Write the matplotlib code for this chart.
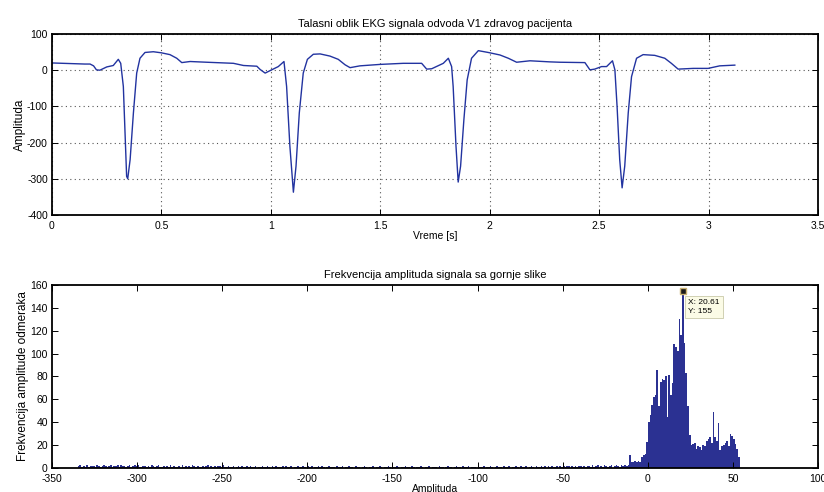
import numpy as np
import matplotlib
matplotlib.use("Agg")
import matplotlib.pyplot as plt

plt.rcParams['font.family'] = ['Liberation Sans', 'DejaVu Sans']
plt.rcParams['axes.unicode_minus'] = False

# EKG signal V1 - tacke ocitane sa slike
vreme = [0, 0.05, 0.10, 0.15, 0.174, 0.19, 0.203, 0.219, 0.25, 0.28,
         0.303, 0.314, 0.326, 0.341, 0.346, 0.357, 0.372, 0.387, 0.402, 0.425,
         0.463, 0.5, 0.539, 0.57, 0.593, 0.631, 0.707, 0.829, 0.875, 0.936,
         0.951, 0.974, 0.997, 1.034, 1.06, 1.072, 1.087, 1.103, 1.115, 1.13,
         1.148, 1.167, 1.194, 1.225, 1.27, 1.308, 1.339, 1.362, 1.407, 1.499,
         1.605, 1.689, 1.712, 1.735, 1.788, 1.811, 1.826, 1.833, 1.846, 1.856,
         1.867, 1.882, 1.897, 1.917, 1.948, 1.993, 2.047, 2.085, 2.123, 2.184,
         2.275, 2.32, 2.435, 2.458, 2.48, 2.511, 2.534, 2.561, 2.572, 2.582,
         2.594, 2.605, 2.617, 2.633, 2.648, 2.671, 2.701, 2.754, 2.8, 2.83,
         2.861, 2.93, 2.998, 3.051, 3.12]
amplituda = [20, 19, 18, 17, 17, 12, 1, 0, 9, 13,
             30, 19, -45, -293, -300, -247, -118, -8, 33, 49,
             51, 48, 43, 33, 21, 24, 22, 19, 13, 11,
             2, -8, -1, 10, 24, -45, -210, -337, -265, -118,
             -8, 30, 44, 45, 39, 30, 15, 7, 12, 16,
             19, 19, 3, 4, 19, 33, 10, -45, -210, -309,
             -265, -137, -27, 33, 54, 49, 42, 33, 22, 26,
             23, 22, 21, 1, 3, 10, 10, 26, 1, -100,
             -247, -325, -265, -118, -18, 33, 43, 41, 33, 19,
             3, 5, 5, 12, 14]

# histogram - prvi centar bina i broj odmeraka po binu (sirina bina 1)
prvi_centar = -334.39
rep = ("23121312221321232123122313221231232311221213212311"
       "21213121120312121321211212302121221311211201212112"
       "12112011211210212111202112011211210212011212101211"
       "10211201121102110121011201121011210112101121102101"
       "12101120111021101211012110211201110211201121012110"
       "21120112102112012102112120212112021212202121221212"
       "21312302132123023213232")
rep_brojevi = [int(c) for c in rep]
centar_brojevi = [3, 11, 5, 5, 6, 5, 6, 5, 10, 11, 12, 23, 40, 46, 55, 62, 64, 86,
                  54, 75, 78, 77, 80, 45, 81, 64, 74, 108, 106, 102, 130, 116, 155,
                  109, 83, 54, 29, 20, 21, 22, 17, 19, 18, 16, 20, 19, 24, 25, 27,
                  22, 49, 27, 24, 39, 16, 19, 20, 22, 24, 19, 30, 28, 25, 21, 17, 10]
brojevi = rep_brojevi + centar_brojevi
ivice = prvi_centar - 0.5 + np.arange(len(brojevi) + 1)

tip_x = 20.61
tip_y = 155

plava = '#2b3192'

fig = plt.figure(figsize=(8.24, 4.92), dpi=100)
ax1 = fig.add_axes([0.0631, 0.563, 0.9296, 0.3679])
ax2 = fig.add_axes([0.0631, 0.0488, 0.9296, 0.372])

# gornji grafik
ax1.plot(vreme, amplituda, color='#2233a0', linewidth=1.0)
ax1.set_xlim(0, 3.5)
ax1.set_ylim(-400, 100)
ax1.set_xticks(np.arange(0, 3.51, 0.5))
ax1.set_xticklabels(['0', '0.5', '1', '1.5', '2', '2.5', '3', '3.5'])
ax1.set_yticks(np.arange(-400, 101, 100))
ax1.grid(True, linestyle=(0, (1, 3)), color='#555555', linewidth=0.8)
ax1.set_title('Talasni oblik EKG signala odvoda V1 zdravog pacijenta', fontsize=8, pad=5)
ax1.set_xlabel('Vreme [s]', fontsize=7.5, labelpad=0)
ax1.set_ylabel('Amplituda', fontsize=8.5, labelpad=1)

# donji grafik - histogram
ax2.stairs(brojevi, ivice, fill=True, color=plava)
ax2.set_xlim(-350, 100)
ax2.set_ylim(0, 160)
ax2.set_xticks(np.arange(-350, 101, 50))
ax2.set_yticks(np.arange(0, 161, 20))
ax2.set_title('Frekvencija amplituda signala sa gornje slike', fontsize=8, pad=5)
ax2.set_xlabel('Amplituda', fontsize=7.5, labelpad=0)
ax2.set_ylabel('Frekvencija amplitude odmeraka', fontsize=8.5, labelpad=1)

# data tip
ax2.plot([tip_x], [tip_y], marker='s', markersize=4.5, color='#1a1a1a',
         markeredgecolor='#c8b070', clip_on=False, zorder=5)
ax2.annotate('X: %.2f\nY: %d' % (tip_x, tip_y), xy=(tip_x, tip_y),
             xytext=(4, -6), textcoords='offset points', ha='left', va='top',
             fontsize=6, linespacing=1.35,
             bbox=dict(boxstyle='square,pad=0.4', fc='#fbfbe6', ec='#c9c9a8', lw=0.6),
             zorder=6)

for ax in (ax1, ax2):
    ax.tick_params(direction='in', top=True, right=True, length=4, width=0.7,
                   labelsize=7.5)
    ax.tick_params(axis='x', pad=4)
    ax.tick_params(axis='y', pad=3)
    for s in ax.spines.values():
        s.set_linewidth(1.3)

fig.savefig('out.png', dpi=100)
